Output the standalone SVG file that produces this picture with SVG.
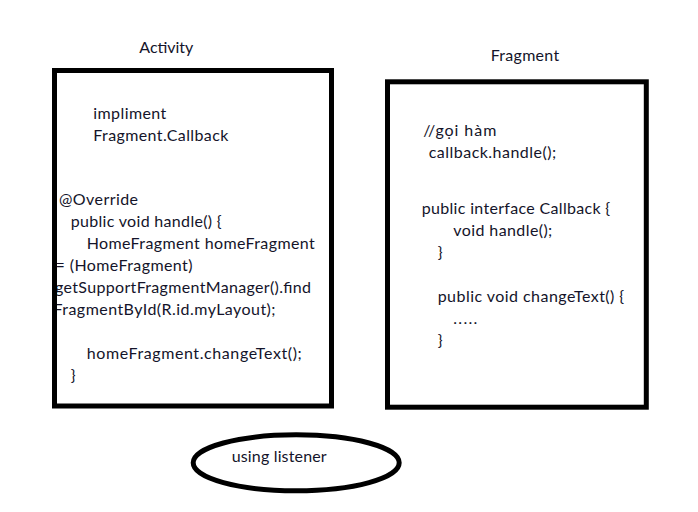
<svg xmlns="http://www.w3.org/2000/svg" width="698" height="512" viewBox="0 0 698 512">
<style>
text{font-family:Lato,"Open Sans","Liberation Sans",sans-serif;font-size:16px;fill:#14142a;lengthAdjust:spacing}
.box{fill:none;stroke:#000;stroke-width:5}
</style>
<defs><clipPath id="actClip"><rect x="52" y="68" width="282" height="341"/></clipPath></defs>
<rect width="698" height="512" fill="#fff"/>
<g id="activity">
<text x="139.3" y="53.3" textLength="54">Activity</text>
<g clip-path="url(#actClip)">
<text x="93.3" y="119.3" textLength="73">impliment</text>
<text x="93.3" y="141" textLength="135">Fragment.Callback</text>
<text x="59" y="205" textLength="79">@Override</text>
<text x="70.7" y="227" textLength="151">public void handle() {</text>
<text x="86.7" y="249" textLength="228">HomeFragment homeFragment</text>
<text x="55.5" y="271" textLength="137">= (HomeFragment)</text>
<text x="55" y="293" textLength="256">getSupportFragmentManager().find</text>
<text x="53.5" y="315" textLength="222">FragmentById(R.id.myLayout);</text>
<text x="86.7" y="359" textLength="215">homeFragment.changeText();</text>
<text x="70.7" y="381">}</text>
</g>
<rect class="box" x="54.5" y="70.5" width="277" height="335.5"/>
</g>
<g id="fragment">
<text x="490.7" y="60.7" textLength="68.5">Fragment</text>
<text x="423.3" y="136" textLength="73">//gọi hàm</text>
<text x="428.7" y="158" textLength="127.5">callback.handle();</text>
<text x="421.7" y="214" textLength="188.5">public interface Callback {</text>
<text x="453.3" y="236" textLength="99">void handle();</text>
<text x="437.7" y="258">}</text>
<text x="437.7" y="302" textLength="186.5">public void changeText() {</text>
<text x="453.3" y="324" textLength="24">.....</text>
<text x="437.7" y="346">}</text>
<rect class="box" x="387.5" y="81.8" width="258.8" height="325.4"/>
</g>
<g id="listener">
<ellipse class="box" cx="296.2" cy="462.8" rx="103" ry="28"/>
<text x="231.7" y="461.7" textLength="95">using listener</text>
</g>
<g id="connectors"/>
</svg>
